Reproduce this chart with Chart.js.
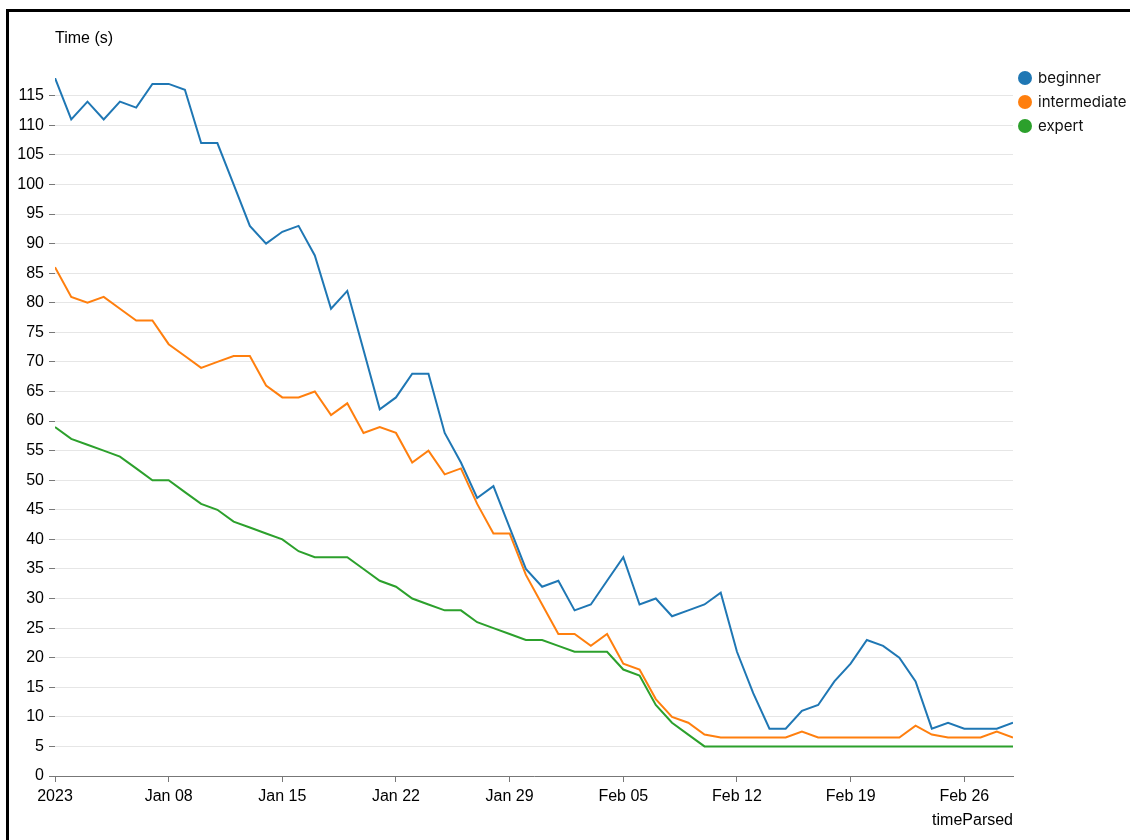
<!DOCTYPE html>
<html>
<head>
<meta charset="utf-8">
<script src="https://cdn.jsdelivr.net/npm/chart.js@4"></script>
<style>
  html, body { margin: 0; padding: 0; background: #fff; }
  body { width: 1130px; height: 840px; position: relative; overflow: hidden; font-family: "Liberation Sans", Arial, Helvetica, sans-serif; }
  #frame { position: absolute; left: 6px; top: 9px; width: 1200px; height: 900px; border-left: 3px solid #000; border-top: 3px solid #000; }
  #wrap { position: absolute; left: 0; top: 0; width: 1130px; height: 840px; }
  .txt { position: absolute; font-size: 16px; color: #000; white-space: nowrap; }
  #ytitle { left: 55px; top: 29px; }
  #xtitle { right: 117px; top: 811px; }
  #legend { position: absolute; left: 1018px; top: 66px; font-family: Inter, "Noto Sans", sans-serif; font-size: 15px; color: #111; }
  #legend div { height: 24px; line-height: 20px; display: flex; align-items: center; }
  #legend span.dot { display: inline-block; width: 14px; height: 14px; border-radius: 50%; margin-right: 6px; }
</style>
</head>
<body>
<div id="frame"></div>
<div id="wrap"><canvas id="chart"></canvas></div>
<div class="txt" id="ytitle">Time (s)</div>
<div class="txt" id="xtitle">timeParsed</div>
<div id="legend"></div>
<script>
// daily values, Jan 01 -> Mar 01 2023
const seriesNames = ['beginner', 'intermediate', 'expert'];
const seriesColors = ['#1f77b4', '#ff7f0e', '#2ca02c'];

const beginner = [118, 111, 114, 111, 114, 113, 117, 117, 116, 107,
  107, 100, 93, 90, 92, 93, 88, 79, 82, 72,
  62, 64, 68, 68, 58, 53, 47, 49, 42, 35,
  32, 33, 28, 29, 33, 37, 29, 30, 27, 28,
  29, 31, 21, 14, 8, 8, 11, 12, 16, 19,
  23, 22, 20, 16, 8, 9, 8, 8, 8, 9];

const intermediate = [86, 81, 80, 81, 79, 77, 77, 73, 71, 69,
  70, 71, 71, 66, 64, 64, 65, 61, 63, 58,
  59, 58, 53, 55, 51, 52, 46, 41, 41, 34,
  29, 24, 24, 22, 24, 19, 18, 13, 10, 9,
  7, 6.5, 6.5, 6.5, 6.5, 6.5, 7.5, 6.5, 6.5, 6.5,
  6.5, 6.5, 6.5, 8.5, 7, 6.5, 6.5, 6.5, 7.5, 6.5];

const expert = [59, 57, 56, 55, 54, 52, 50, 50, 48, 46,
  45, 43, 42, 41, 40, 38, 37, 37, 37, 35,
  33, 32, 30, 29, 28, 28, 26, 25, 24, 23,
  23, 22, 21, 21, 21, 18, 17, 12, 9, 7,
  5, 5, 5, 5, 5, 5, 5, 5, 5, 5,
  5, 5, 5, 5, 5, 5, 5, 5, 5, 5];

// x tick positions (day offset from Jan 01) and their labels
const xTickDays = [0, 7, 14, 21, 28, 35, 42, 49, 56];
const xTickLabels = ['2023', 'Jan 08', 'Jan 15', 'Jan 22', 'Jan 29', 'Feb 05', 'Feb 12', 'Feb 19', 'Feb 26'];
const yTickValues = [0, 5, 10, 15, 20, 25, 30, 35, 40, 45, 50, 55, 60, 65, 70, 75, 80, 85, 90, 95, 100, 105, 110, 115];

const allSeries = [beginner, intermediate, expert];

// legend
const legendEl = document.getElementById('legend');
seriesNames.forEach((name, i) => {
  const row = document.createElement('div');
  row.innerHTML = '<span class="dot" style="background:' + seriesColors[i] + '"></span>' + name;
  legendEl.appendChild(row);
});

const ctx = document.getElementById('chart').getContext('2d');
new Chart(ctx, {
  type: 'line',
  data: {
    datasets: allSeries.map((vals, s) => ({
      label: seriesNames[s],
      data: vals.map((v, i) => ({ x: i, y: v })),
      borderColor: seriesColors[s],
      backgroundColor: seriesColors[s],
      borderWidth: 2,
      pointRadius: 0,
      tension: 0,
      fill: false,
    }))
  },
  options: {
    responsive: true,
    maintainAspectRatio: false,
    animation: false,
    layout: { padding: { left: 0, top: 78, right: 117, bottom: 24 } },
    plugins: {
      legend: { display: false },
      tooltip: { enabled: false }
    },
    scales: {
      x: {
        type: 'linear',
        min: 0,
        max: 59,
        afterBuildTicks: scale => { scale.ticks = xTickDays.map(v => ({ value: v })); },
        afterFit: scale => { scale.height = 40; },
        grid: { drawOnChartArea: false, drawTicks: true, tickLength: 6, tickColor: '#777' },
        border: { display: true, color: '#777', width: 1 },
        ticks: {
          color: '#000',
          padding: 5,
          maxRotation: 0,
          font: { family: '"Liberation Sans", Arial, sans-serif', size: 16 },
          callback: function(value) {
            const k = xTickDays.indexOf(value);
            return k >= 0 ? xTickLabels[k] : '';
          }
        }
      },
      y: {
        type: 'linear',
        min: 0,
        max: 118,
        afterBuildTicks: scale => { scale.ticks = yTickValues.map(v => ({ value: v })); },
        afterFit: scale => { scale.width = 55; },
        grid: { color: '#e6e6e6', lineWidth: 1, drawTicks: true, tickLength: 6, tickColor: '#777' },
        border: { display: false },
        ticks: {
          color: '#000',
          padding: 5,
          font: { family: '"Liberation Sans", Arial, sans-serif', size: 16 }
        }
      }
    }
  }
});
</script>
</body>
</html>
